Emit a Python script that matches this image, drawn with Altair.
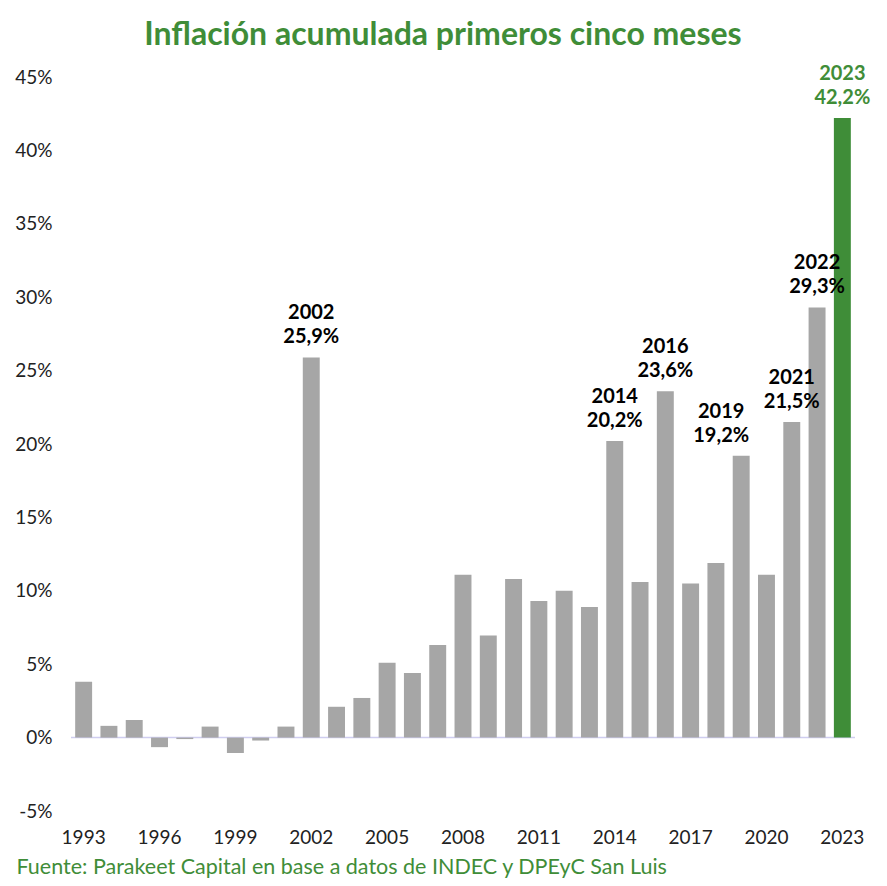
import altair as alt
import pandas as pd

years = list(range(1993, 2024))
values = [3.8, 0.8, 1.2, -0.65, -0.1, 0.75, -1.05, -0.2, 0.75, 25.9,
          2.1, 2.7, 5.1, 4.4, 6.3, 11.1, 6.95, 10.8, 9.3, 10.0,
          8.9, 20.2, 10.6, 23.6, 10.5, 11.9, 19.2, 11.1, 21.5, 29.3,
          42.2]
label_years = [2002, 2014, 2016, 2019, 2021, 2022, 2023]
y_ticks = [-5, 0, 5, 10, 15, 20, 25, 30, 35, 40, 45]
x_ticks = [1993, 1996, 1999, 2002, 2005, 2008, 2011, 2014, 2017, 2020, 2023]

TITLE = "Inflación acumulada primeros cinco meses"
SOURCE = "Fuente: Parakeet Capital en base a datos de INDEC y DPEyC San Luis"

GREEN = "#3f8d38"
GRAY = "#a6a6a6"
FONT = "Lato"

df = pd.DataFrame({"year": years, "value": values})
df["hl"] = ["si" if y == 2023 else "no" for y in years]
lab = df[df["year"].isin(label_years)].copy()
lab["label"] = [f"{y}\n" + f"{v:.1f}".replace(".", ",") + "%" for y, v in zip(lab["year"], lab["value"])]

x_enc = alt.X(
    "year:O",
    scale=alt.Scale(paddingInner=0.33, paddingOuter=0.165),
    axis=alt.Axis(
        values=x_ticks, labelAngle=0, ticks=False, domain=False,
        labelFontSize=19, labelPadding=17, labelColor="#222222", labelFont=FONT,
        title=SOURCE, titleAnchor="start", titleAlign="left", titleX=-55, titleY=62,
        titleBaseline="alphabetic", titleFontSize=21.5, titleColor=GREEN,
        titleFontWeight="normal", titleFont=FONT,
    ),
)
y_enc = alt.Y(
    "value:Q",
    scale=alt.Scale(domain=[-5, 45], nice=False, zero=False),
    axis=alt.Axis(
        values=y_ticks, labelExpr="datum.value + '%'", grid=False, domain=False,
        ticks=False, labelFontSize=19, labelPadding=19, labelColor="#222222",
        labelFont=FONT, title=None,
    ),
)
color_enc = alt.Color("hl:N", scale=alt.Scale(domain=["no", "si"], range=[GRAY, GREEN]), legend=None)

rule = alt.Chart(pd.DataFrame({"value": [0]})).mark_rule(color="#cfcdf0", strokeWidth=1.5).encode(y="value:Q")

bars = alt.Chart(df).mark_bar().encode(x=x_enc, y=y_enc, color=color_enc)

text_style = dict(font=FONT, fontSize=20, fontWeight="bold", baseline="bottom",
                  lineBreak="\n", lineHeight=24, dy=-34)

labels = alt.Chart(lab).transform_filter("datum.year != 2019").mark_text(**text_style).encode(
    x="year:O", y="value:Q", text="label:N",
    fill=alt.Fill("hl:N", scale=alt.Scale(domain=["no", "si"], range=["#000000", GREEN]), legend=None),
)
label2019 = alt.Chart(lab).transform_filter("datum.year == 2019").mark_text(
    dx=-20, color="#000000", **text_style
).encode(x="year:O", y="value:Q", text="label:N")

chart = alt.layer(rule, bars, labels, label2019).resolve_scale(color="independent").properties(
    width=784,
    height=734,
    autosize=alt.AutoSizeParams(type="none"),
    padding={"left": 71, "top": 77, "right": 32, "bottom": 75},
    title=alt.TitleParams(
        TITLE, fontSize=32, font=FONT, fontWeight="bold", color=GREEN,
        anchor="middle", dx=-20, offset=12,
    ),
).configure(background="white", view=alt.ViewConfig(stroke=None))

chart.save("out.html", embed_options={"renderer": "svg", "actions": False})
